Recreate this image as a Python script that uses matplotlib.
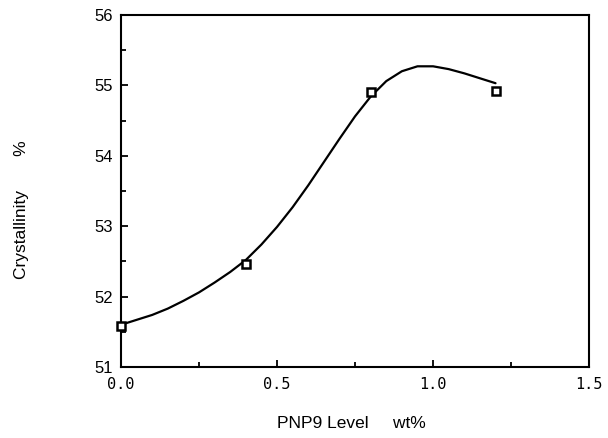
import numpy as np
import matplotlib
matplotlib.use("Agg")
import matplotlib.pyplot as plt
from matplotlib.ticker import MultipleLocator

# measured points
pnp9_level = [0.0, 0.4, 0.8, 1.2]
crystallinity = [51.58, 52.47, 54.90, 54.92]

# smooth curve
curve_x = [0.00, 0.05, 0.10, 0.15, 0.20, 0.25, 0.30, 0.35, 0.40, 0.45,
           0.50, 0.55, 0.60, 0.65, 0.70, 0.75, 0.80, 0.85, 0.90, 0.95,
           1.00, 1.05, 1.10, 1.15, 1.20]
curve_y = [51.60, 51.67, 51.74, 51.83, 51.94, 52.06, 52.20, 52.35, 52.52, 52.74,
           52.99, 53.27, 53.58, 53.91, 54.24, 54.56, 54.84, 55.06, 55.20, 55.27,
           55.27, 55.23, 55.17, 55.10, 55.03]

x_ticks = [0.0, 0.5, 1.0, 1.5]
x_ticklabels = ["0.0", "0.5", "1.0", "1.5"]
y_ticks = [51, 52, 53, 54, 55, 56]

plt.rcParams["font.family"] = ["Liberation Sans", "DejaVu Sans"]

fig = plt.figure(figsize=(6.08, 4.38), dpi=100)
ax = fig.add_axes([0.199, 0.162, 0.770, 0.804])

ax.plot(curve_x, curve_y, color="black", linewidth=1.6, solid_capstyle="round",
        solid_joinstyle="round")
ax.plot(pnp9_level, crystallinity, linestyle="none", marker="s", markersize=5.5,
        markerfacecolor="white", markeredgecolor="black", markeredgewidth=1.8,
        clip_on=False, zorder=3)

ax.set_xlim(0, 1.5)
ax.set_ylim(51, 56)
ax.set_xticks(x_ticks)
ax.set_xticklabels(x_ticklabels)
ax.set_yticks(y_ticks)
ax.xaxis.set_minor_locator(MultipleLocator(0.25))
ax.yaxis.set_minor_locator(MultipleLocator(0.5))

ax.tick_params(which="both", direction="in", top=False, right=False,
               width=1.3, labelsize=12)
ax.tick_params(which="major", length=5)
ax.tick_params(which="minor", length=3.5)
ax.tick_params(axis="x", pad=7)
ax.tick_params(axis="y", pad=6)
for lab in ax.get_xticklabels():
    lab.set_fontfamily(["DejaVu Sans Mono", "DejaVu Sans"])
    lab.set_fontsize(11)

for spine in ax.spines.values():
    spine.set_linewidth(1.5)

fig.text(351 / 608, 1 - 423 / 438, "PNP9 Level     wt%", ha="center", va="center",
         fontsize=12.5)
fig.text(22 / 608, 1 - 210 / 438, "Crystallinity       %", ha="center", va="center",
         rotation=90, fontsize=12.5)

fig.savefig("out.png", dpi=100)
plt.close()
